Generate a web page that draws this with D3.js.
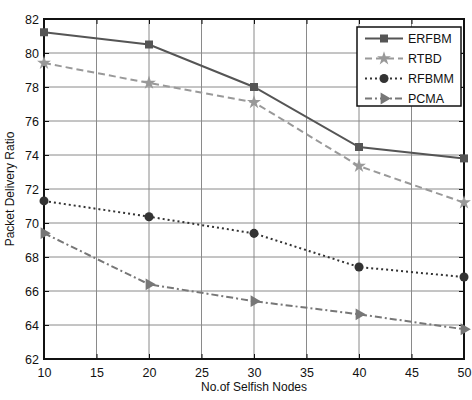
<!DOCTYPE html>
<html>
<head>
<meta charset="utf-8">
<script src="https://cdn.jsdelivr.net/npm/d3@7"></script>
<style>
  body { margin: 0; background: #fff; }
  text { font-family: "Liberation Sans", Arial, sans-serif; }
</style>
</head>
<body>
<div id="chart"></div>
<script>
let nodes = [10, 20, 30, 40, 50];
let erfbm = [81.22, 80.5, 78.0, 74.47, 73.8];
let rtbd = [79.41, 78.24, 77.1, 73.35, 71.2];
let rfbmm = [71.3, 70.37, 69.39, 67.41, 66.82];
let pcma = [69.4, 66.39, 65.4, 64.63, 63.75];
let xTicks = [10, 15, 20, 25, 30, 35, 40, 45, 50];
let yTicks = [62, 64, 66, 68, 70, 72, 74, 76, 78, 80, 82];

let width = 472, height = 400,
    margin = {left: 44, top: 19, right: 8, bottom: 41},
    plotW = width - margin.left - margin.right,
    plotH = height - margin.top - margin.bottom;

let svg = d3.select('#chart').append('svg')
    .attr('width', width)
    .attr('height', height);

let g = svg.append('g')
    .attr('transform', `translate(${margin.left}, ${margin.top})`);

let x = d3.scaleLinear().domain([10, 50]).range([0, plotW]);
let y = d3.scaleLinear().domain([62, 82]).range([plotH, 0]);

// grid
g.append('g').selectAll('line')
    .data(xTicks.slice(1, -1))
    .join('line')
    .attr('x1', d => x(d)).attr('x2', d => x(d))
    .attr('y1', 0).attr('y2', plotH)
    .attr('stroke', '#8a8a8a').attr('stroke-width', 1);
g.append('g').selectAll('line')
    .data(yTicks.slice(1, -1))
    .join('line')
    .attr('y1', d => y(d)).attr('y2', d => y(d))
    .attr('x1', 0).attr('x2', plotW)
    .attr('stroke', '#8a8a8a').attr('stroke-width', 1);

// axes with inner ticks
g.append('g')
    .attr('transform', `translate(0, ${plotH})`)
    .call(d3.axisBottom(x).tickValues(xTicks).tickSize(-5).tickPadding(9).tickSizeOuter(0));
g.append('g')
    .call(d3.axisLeft(y).tickValues(yTicks).tickSize(-5).tickPadding(5).tickSizeOuter(0));
g.append('g')
    .call(d3.axisTop(x).tickValues(xTicks).tickSize(-5).tickFormat('').tickSizeOuter(0));
g.append('g')
    .attr('transform', `translate(${plotW}, 0)`)
    .call(d3.axisRight(y).tickValues(yTicks).tickSize(-5).tickFormat('').tickSizeOuter(0));

svg.selectAll('.tick text')
    .attr('font-size', 12.5)
    .attr('fill', '#111')
    .style('font-family', '"Liberation Sans", Arial, sans-serif');
svg.selectAll('.domain').remove();
svg.selectAll('.tick line').attr('stroke', '#111');

g.append('rect')
    .attr('width', plotW).attr('height', plotH)
    .attr('fill', 'none').attr('stroke', '#111').attr('stroke-width', 2);

let series = [
    {name: 'ERFBM', values: erfbm, color: '#555', dash: null, width: 2, marker: 'square'},
    {name: 'RTBD', values: rtbd, color: '#999', dash: '7,4', width: 2, marker: 'star'},
    {name: 'RFBMM', values: rfbmm, color: '#333', dash: '2,3', width: 2, marker: 'circle'},
    {name: 'PCMA', values: pcma, color: '#777', dash: '7,3,2,3', width: 2, marker: 'triangle'}
];

let symbols = {
    square: d3.symbol().type(d3.symbolSquare).size(64),
    star: d3.symbol().type(d3.symbolStar).size(60),
    circle: d3.symbol().type(d3.symbolCircle).size(64),
    triangle: d3.symbol().type(d3.symbolTriangle).size(60)
};

let line = d3.line()
    .x((d, i) => x(nodes[i]))
    .y(d => y(d));

series.forEach(s => {
    g.append('path')
        .datum(s.values)
        .attr('d', line)
        .attr('fill', 'none')
        .attr('stroke', s.color)
        .attr('stroke-width', s.width)
        .attr('stroke-dasharray', s.dash);
    g.selectAll(null)
        .data(s.values)
        .join('path')
        .attr('d', symbols[s.marker])
        .attr('transform', (d, i) => `translate(${x(nodes[i])}, ${y(d)})` + (s.marker === 'triangle' ? ' rotate(90)' : ''))
        .attr('fill', s.color);
});

// legend
let legend = svg.append('g')
    .attr('transform', 'translate(357, 27)');
legend.append('rect')
    .attr('width', 104).attr('height', 79)
    .attr('fill', '#fff').attr('stroke', '#111').attr('stroke-width', 1.5);
series.forEach((s, i) => {
    let ly = 11.5 + i * 20;
    legend.append('line')
        .attr('x1', 8).attr('x2', 46)
        .attr('y1', ly).attr('y2', ly)
        .attr('stroke', s.color).attr('stroke-width', s.width)
        .attr('stroke-dasharray', s.dash);
    legend.append('path')
        .attr('d', symbols[s.marker])
        .attr('transform', `translate(27, ${ly})` + (s.marker === 'triangle' ? ' rotate(90)' : ''))
        .attr('fill', s.color);
    legend.append('text')
        .attr('x', 51).attr('y', ly + 4.5)
        .attr('font-size', 12.5)
        .attr('fill', '#111')
        .text(s.name);
});

// axis titles
svg.append('text')
    .attr('x', margin.left + plotW / 2)
    .attr('y', 391)
    .attr('text-anchor', 'middle')
    .attr('font-size', 12)
    .attr('fill', '#111')
    .text('No.of Selfish Nodes');
svg.append('text')
    .attr('transform', `translate(14, ${margin.top + plotH / 2}) rotate(-90)`)
    .attr('text-anchor', 'middle')
    .attr('font-size', 12)
    .attr('fill', '#111')
    .text('Packet Delivery Ratio');
</script>
</body>
</html>
